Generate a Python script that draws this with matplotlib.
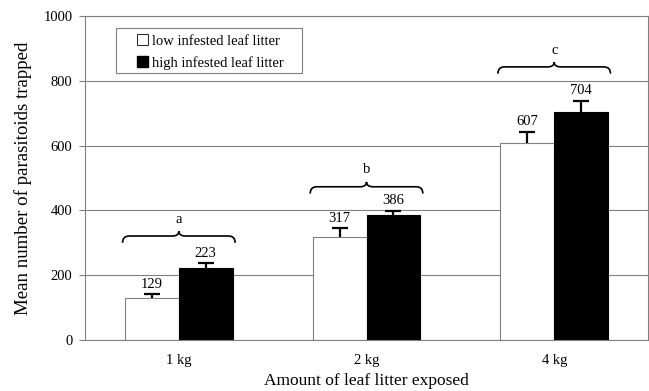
# bar chart: parasitoids trapped vs amount of leaf litter
import matplotlib
matplotlib.use("Agg")
from matplotlib import pyplot as plt
from matplotlib.path import Path
from matplotlib.patches import PathPatch, Patch, Rectangle
import numpy as np

plt.rcParams['font.family'] = ['Liberation Serif', 'DejaVu Serif']

# data
categories = ["1 kg", "2 kg", "4 kg"]
low_means = [129, 317, 607]
high_means = [223, 386, 704]
low_err = [12, 28, 36]
high_err = [14, 13, 35]
group_letters = ["a", "b", "c"]
brace_levels = [321, 473, 843]
series_names = ["low infested leaf litter", "high infested leaf litter"]

grey = "#808080"

fig = plt.figure(figsize=(6.49, 3.91), dpi=100)
ax = fig.add_axes([0.131, 0.1304, 0.8675, 0.8286])

x = np.arange(len(categories))
w = 0.287

ax.set_axisbelow(True)
ax.yaxis.grid(True, color=grey, linewidth=0.8)

ax.bar(x - w / 2, low_means, w, color="white", edgecolor=grey, linewidth=0.8)
ax.bar(x + w / 2, high_means, w, color="black", edgecolor="black", linewidth=0.8)

# only the upper half of the error bars is drawn
for xs, ys, es in [(x - w / 2, low_means, low_err), (x + w / 2, high_means, high_err)]:
    eb = ax.errorbar(xs, ys, yerr=[np.zeros(3), es], fmt="none",
                     ecolor="black", elinewidth=1.6, capsize=5.5, capthick=1.6)
    eb[1][0].set_visible(False)  # lower caps

for i in range(len(categories)):
    ax.annotate(str(low_means[i]), (x[i] - w / 2, low_means[i] + low_err[i]),
                xytext=(0, 2.5), textcoords="offset points", ha="center",
                va="bottom", fontsize=10.5)
    ax.annotate(str(high_means[i]), (x[i] + w / 2, high_means[i] + high_err[i]),
                xytext=(0, 2.5), textcoords="offset points", ha="center",
                va="bottom", fontsize=10.5)


def brace(ax, xc, half, yh):
    # horizontal curly brace, ends bent down, tip up
    dx = 0.035
    de = 21
    dt = 15
    x0 = xc - half
    x1 = xc + half
    verts = [(x0, yh - de), (x0, yh), (x0 + dx, yh),
             (xc - dx, yh),
             (xc, yh), (xc, yh + dt),
             (xc, yh), (xc + dx, yh),
             (x1 - dx, yh),
             (x1, yh), (x1, yh - de)]
    codes = [Path.MOVETO, Path.CURVE3, Path.CURVE3,
             Path.LINETO,
             Path.CURVE3, Path.CURVE3,
             Path.CURVE3, Path.CURVE3,
             Path.LINETO,
             Path.CURVE3, Path.CURVE3]
    ax.add_patch(PathPatch(Path(verts, codes), facecolor="none",
                           edgecolor="black", linewidth=1.2))


for i in range(len(categories)):
    brace(ax, x[i], 0.3, brace_levels[i])
    ax.text(x[i], brace_levels[i] + 52, group_letters[i], ha="center",
            va="center", fontsize=10.5)

ax.set_xlim(-0.5, 2.5)
ax.set_ylim(0, 1000)
ax.set_yticks([0, 200, 400, 600, 800, 1000])
ax.set_xticks(x)
ax.set_xticklabels(categories)
ax.tick_params(axis="x", length=0, pad=10, labelsize=10.5)
ax.tick_params(axis="y", length=4, color=grey, width=0.8, pad=5, labelsize=10.5)

for side in ["left", "bottom", "right", "top"]:
    ax.spines[side].set_color(grey)
    ax.spines[side].set_linewidth(0.8)

ax.set_xlabel("Amount of leaf litter exposed", fontsize=12.5, labelpad=4.5)
ax.set_ylabel("Mean number of parasitoids trapped", fontsize=13.6, labelpad=8)

# legend box drawn separately so its padding matches
ax.add_patch(Rectangle((0.055, 0.824), 0.3305, 0.139, transform=ax.transAxes,
                       facecolor="white", edgecolor=grey, linewidth=0.8,
                       zorder=4))
handles = [Patch(facecolor="white", edgecolor="black", linewidth=0.6),
           Patch(facecolor="black", edgecolor="black")]
leg = ax.legend(handles, series_names, loc="upper left",
                bbox_to_anchor=(0.0924, 0.944), borderaxespad=0, borderpad=0,
                fontsize=10.5, handlelength=0.72, handleheight=0.8,
                handletextpad=0.3, frameon=False, labelspacing=0.55)
leg.set_zorder(5)

plt.savefig("out.png", dpi=100)
